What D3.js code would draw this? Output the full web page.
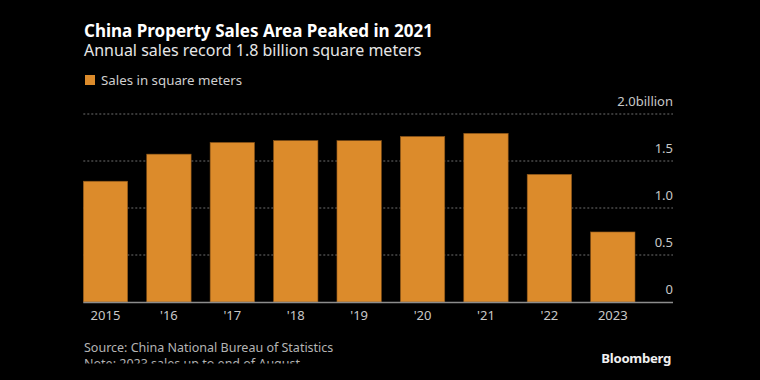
<!DOCTYPE html>
<html><head><meta charset="utf-8">
<script src="https://cdn.jsdelivr.net/npm/d3@7"></script>
<style>
html,body{margin:0;padding:0;background:#000;}
svg{display:block;font-family:"Noto Sans",sans-serif;}
</style></head>
<body>
<svg id="chart" width="760" height="380"></svg>
<script>
const categories = ["2015","'16","'17","'18","'19","'20","'21","'22","2023"];
const salesValues = [1.285, 1.573, 1.697, 1.717, 1.716, 1.761, 1.794, 1.358, 0.745];
const yTicks = [0, 0.5, 1.0, 1.5, 2.0];
const yTickLabels = ["0", "0.5", "1.0", "1.5", "2.0"];
const title = "China Property Sales Area Peaked in 2021";
const subtitle = "Annual sales record 1.8 billion square meters";
const legendLabel = "Sales in square meters";
const sourceText = "Source: China National Bureau of Statistics";
const noteText = "Note: 2023 sales up to end of August";

const svg = d3.select("#chart");
svg.append("rect").attr("width",760).attr("height",380).attr("fill","#000");

const mLeft = 83.3, mRight = 673, plotRight = 635, mTop = 114, mBottom = 302;
const x = d3.scaleBand().domain(categories).range([mLeft, plotRight]).paddingInner(0.3).paddingOuter(0);
const y = d3.scaleLinear().domain([0, 2]).range([mBottom, mTop]);

// titles
svg.append("text").attr("x",84).attr("y",37).attr("fill","#fff")
  .attr("font-size",18).attr("font-weight","bold")
  .attr("textLength",349).attr("lengthAdjust","spacingAndGlyphs").text(title);
svg.append("text").attr("x",84).attr("y",56).attr("fill","#e6e6e6")
  .attr("font-size",16).text(subtitle);

// legend
svg.append("rect").attr("x",85).attr("y",75).attr("width",10).attr("height",10).attr("fill","#dc8b2b");
svg.append("text").attr("x",101).attr("y",85).attr("fill","#cfcfcf").attr("font-size",13.3).text(legendLabel);

// gridlines
const grid = svg.append("g");
grid.selectAll("line").data(yTicks.filter(d => d > 0)).join("line")
  .attr("x1", mLeft).attr("x2", mRight)
  .attr("y1", d => y(d)).attr("y2", d => y(d))
  .attr("stroke","#6e6e6e").attr("stroke-width",1).attr("stroke-dasharray","2,2");

// y axis labels (right aligned)
const yAxis = d3.axisRight(y).tickValues(yTicks).tickSize(0)
  .tickFormat((d,i) => yTickLabels[i] + (d === 2 ? "billion" : ""));
const yg = svg.append("g").attr("transform", `translate(${mRight},0)`).call(yAxis);
yg.select(".domain").remove();
yg.selectAll("text").attr("x",0).attr("dy",0).attr("y",-9)
  .attr("text-anchor","end").attr("fill","#c8c8c8").attr("font-size",13)
  .attr("font-family","Noto Sans, sans-serif");

// bars
svg.append("g").selectAll("rect").data(categories).join("rect")
  .attr("x", d => x(d)).attr("width", x.bandwidth())
  .attr("y", (d,i) => y(salesValues[i]))
  .attr("height", (d,i) => y(0) - y(salesValues[i]))
  .attr("fill","#dc8b2b").attr("stroke","#8a5418").attr("stroke-width",0.6);

// baseline
svg.append("line").attr("x1",mLeft).attr("x2",mRight).attr("y1",mBottom+0.5).attr("y2",mBottom+0.5)
  .attr("stroke","#8c8c8c").attr("stroke-width",1.5);

// x axis
const xAxis = d3.axisBottom(x).tickSize(0);
const xg = svg.append("g").attr("transform",`translate(0,${mBottom})`).call(xAxis);
xg.select(".domain").remove();
xg.selectAll("text").attr("y",18).attr("dy",0).attr("fill","#c8c8c8").attr("font-size",13)
  .attr("font-family","Noto Sans, sans-serif");

// footer (clipped at the bottom, as in the reference)
svg.append("clipPath").attr("id","fclip").append("rect").attr("x",0).attr("y",0).attr("width",760).attr("height",363.5);
const f = svg.append("g").attr("clip-path","url(#fclip)");
f.append("text").attr("x",84).attr("y",352).attr("fill","#b4b4b4").attr("font-size",12.5).text(sourceText);
f.append("text").attr("x",84).attr("y",368).attr("fill","#b4b4b4").attr("font-size",12.5).text(noteText);
svg.append("text").attr("x",671).attr("y",363).attr("text-anchor","end").attr("fill","#f0f0f0")
  .attr("font-size",13.2).attr("font-weight","bold").attr("letter-spacing",-0.3).text("Bloomberg");
</script>
</body></html>
